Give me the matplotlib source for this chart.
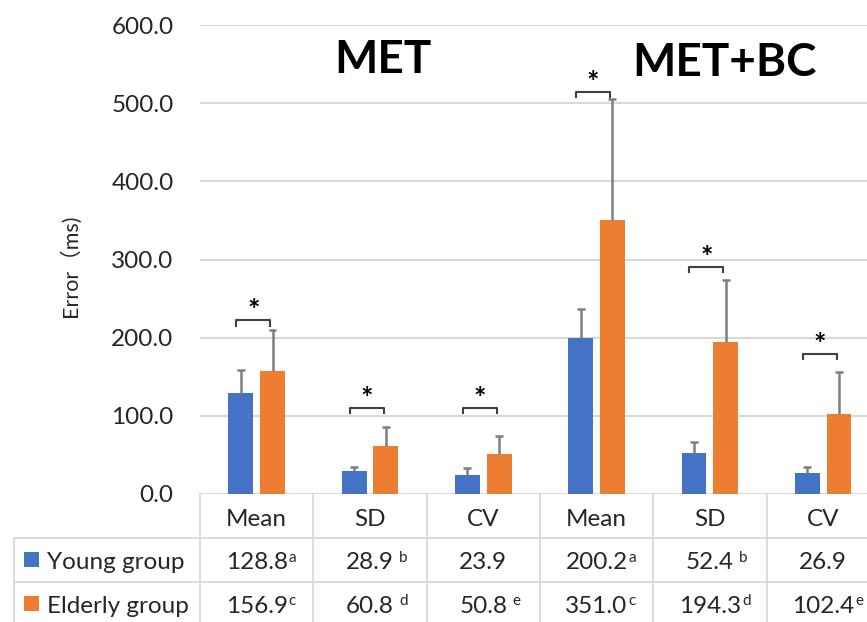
import matplotlib.pyplot as plt
from matplotlib.patches import Rectangle

plt.rcParams['font.family'] = ['Lato', 'Noto Sans CJK SC', 'DejaVu Sans']

# ---------- Data ----------
categories = ['Mean', 'SD', 'CV', 'Mean', 'SD', 'CV']
young = [128.8, 28.9, 23.9, 200.2, 52.4, 26.9]
elderly = [156.9, 60.8, 50.8, 351.0, 194.3, 102.4]
young_err = [30.0, 5.6, 9.0, 36.0, 14.5, 7.6]
elderly_err = [53.0, 25.0, 23.0, 154.0, 80.0, 54.0]
young_sup = ['a', 'b', '', 'a', 'b', '']
elderly_sup = ['c', 'd', 'e', 'c', 'd', 'e']
young_gap = [1, 5, 0, 1, 5, 0]      # px between number and superscript
elderly_gap = [1, 5, 5, 1, 1, 1]
young_txt = ['128.8', '28.9', '23.9', '200.2', '52.4', '26.9']
elderly_txt = ['156.9', '60.8', '50.8', '351.0', '194.3', '102.4']
bracket_y = [222, 110, 110, 514, 290, 179]
panel_titles = ['MET', 'MET+BC']
series_names = ['Young group', 'Elderly group']

blue = '#4472C4'
orange = '#ED7D31'
grid_c = '#d9d9d9'
txt_c = '#262626'

W, H = 867, 622
fig = plt.figure(figsize=(W / 100, H / 100), dpi=100)
ax = fig.add_axes([200 / W, 128 / H, 667 / W, 469 / H])

cat_w = 113.3  # pixels per category
ax.set_xlim(-0.5, -0.5 + 667 / cat_w)
ax.set_ylim(0, 600)

x = list(range(len(categories)))
off = 0.14
bw = 0.22
xy = [i - off for i in x]
xe = [i + off for i in x]

ax.bar(xy, young, width=bw, color=blue, zorder=2)
ax.bar(xe, elderly, width=bw, color=orange, zorder=2)

# upward-only error bars (Excel "plus" style)
cap = 0.035
for xs, vals, errs in [(xy, young, young_err), (xe, elderly, elderly_err)]:
    tops = [v + e for v, e in zip(vals, errs)]
    ax.vlines(xs, vals, tops, color='#7f7f7f', lw=1.8, zorder=3)
    ax.hlines(tops, [p - cap for p in xs], [p + cap for p in xs], color='#7f7f7f',
              lw=1.8, zorder=3)

# significance brackets
for i, by in zip(x, bracket_y):
    x1, x2 = i - 0.18, i + 0.12
    ax.plot([x1, x1, x2, x2], [by - 6.5, by, by, by - 6.5], color='#404040', lw=1.5,
            zorder=3)
    ax.text((x1 + x2) / 2, by + 12, '*', ha='center', va='center', fontsize=21,
            color='black', fontweight='bold')

# axes styling
ax.set_yticks(range(0, 601, 100))
ax.set_yticklabels(['%.1f' % v for v in range(0, 601, 100)])
ax.set_xticks([])
ax.tick_params(axis='y', length=0, pad=19, labelsize=17.5, colors=txt_c)
ax.yaxis.grid(True, color=grid_c, lw=1.5)
ax.set_axisbelow(True)
for s in ax.spines.values():
    s.set_visible(False)

fig.text(70 / W, 1 - 266 / H, 'Error（ms)', rotation=90, ha='center', va='center',
         fontsize=15.5, color=txt_c)

# panel titles
ax.text(0.274, 0.925, panel_titles[0], transform=ax.transAxes, ha='center',
        va='center', fontsize=33, fontweight='bold')
ax.text(0.787, 0.92, panel_titles[1], transform=ax.transAxes, ha='center',
        va='center', fontsize=33, fontweight='bold')

# ---------- Data table ----------
tr = ax.get_xaxis_transform()
x_right = ax.get_xlim()[1]
x_left = -0.5 - (200.7 - 15) / cat_w
r0, r1, r2, r3 = 0.0, -0.0938, -0.187, -0.28

lk = dict(color=grid_c, lw=1.3, transform=tr, clip_on=False)
ax.plot([x_left, x_right], [r1, r1], **lk)
ax.plot([x_left, x_right], [r2, r2], **lk)
ax.plot([x_left, x_left], [r1, r3], **lk)
for b in range(len(categories)):
    ax.plot([b - 0.5, b - 0.5], [r0, r3], **lk)

for i, c in enumerate(categories):
    ax.text(i, -0.068, c, transform=tr, ha='center', va='baseline', fontsize=17.5,
            color=txt_c)

rows = [(young_txt, young_sup, young_gap, -0.1606, -0.1407, blue),
        (elderly_txt, elderly_sup, elderly_gap, -0.2537, -0.234, orange)]
placed = []
for k, (vals, sups, gaps, yb, yc, col) in enumerate(rows):
    sq_h = 15 / 469
    ax.add_patch(Rectangle((-0.5 - (200.7 - 25) / cat_w, yc - sq_h / 2), 15 / cat_w, sq_h,
                           facecolor=col, edgecolor='none', transform=tr, clip_on=False))
    ax.text(-0.5 - (200.7 - 48) / cat_w, yb, series_names[k], transform=tr, ha='left',
            va='baseline', fontsize=17.5, color=txt_c)
    for i, (v, s, g) in enumerate(zip(vals, sups, gaps)):
        t = ax.text(i, yb, v, transform=tr, ha='center', va='baseline', fontsize=17.5,
                    color=txt_c)
        if s:
            placed.append((t, s, g, i, yb))

# superscripts: placed after layout so they sit right of each number
fig.canvas.draw()
rend = fig.canvas.get_renderer()
for t, s, g, i, yb in placed:
    bb = t.get_window_extent(rend)
    base_px = tr.transform((i, yb))[1]
    fig.text((bb.x1 + g) / W, (base_px + 7.6) / H, s, ha='left', va='baseline',
             fontsize=11, color=txt_c)

fig.savefig('out.png', dpi=100)
